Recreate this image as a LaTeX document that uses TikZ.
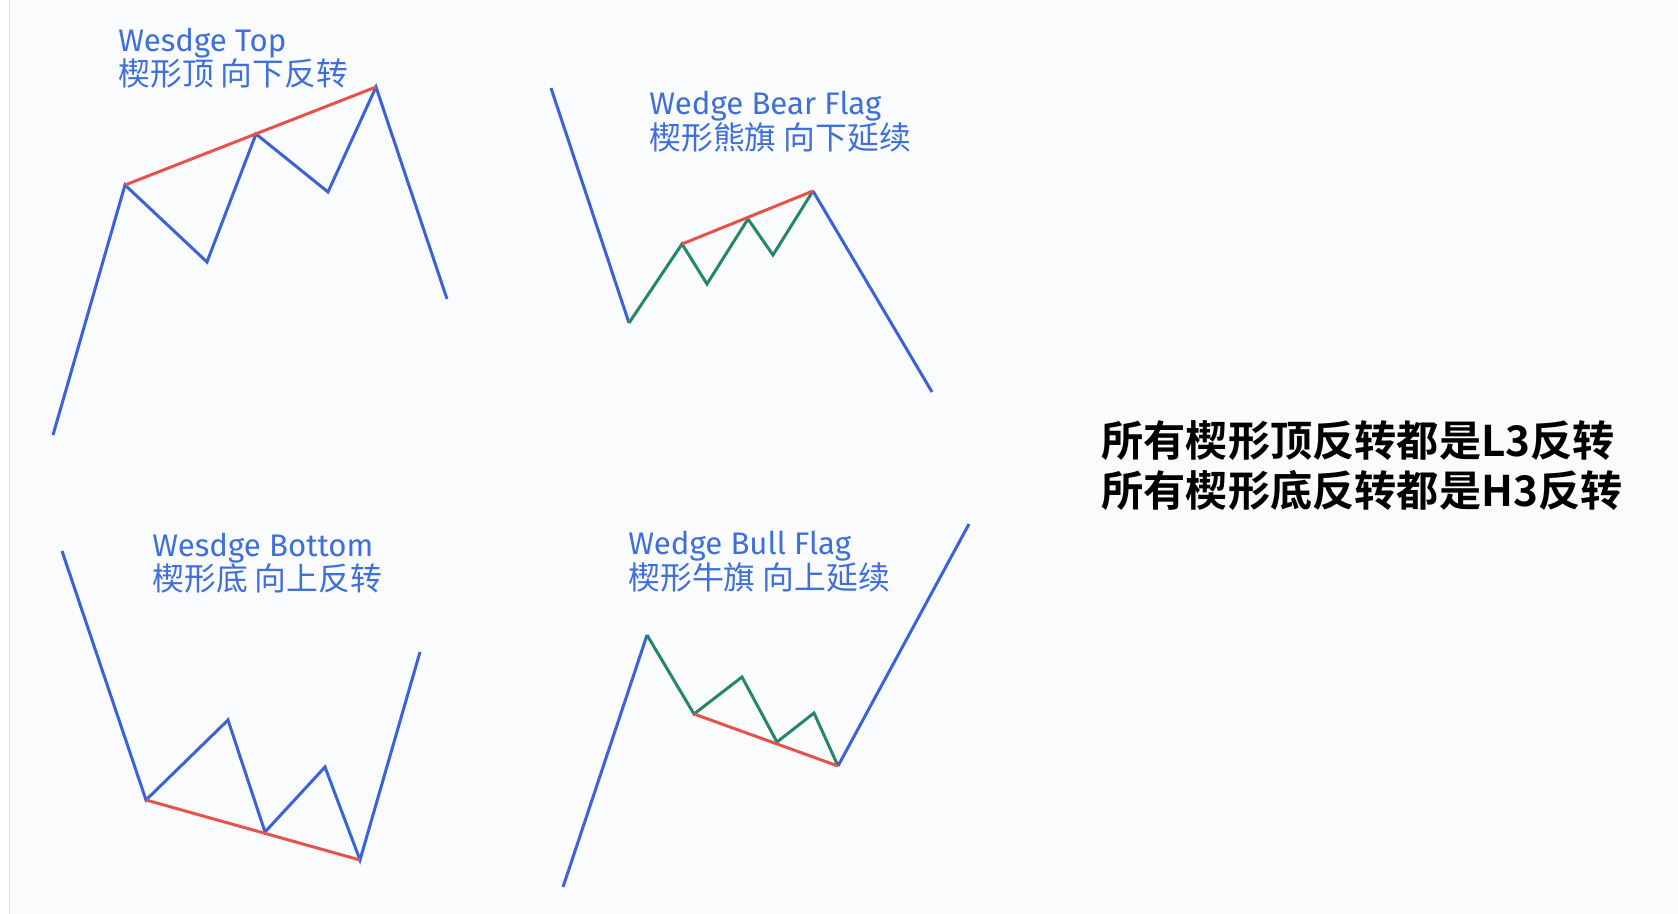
\documentclass[tikz,border=0pt]{standalone}
\usepackage{fontspec}
\setmainfont{Fira Sans}
\newfontfamily\cjk[BoldFont={Noto Sans CJK SC Bold}]{Noto Sans CJK SC}
\usepackage{xcolor}
\usepackage{tikz}
\definecolor{wblue}{HTML}{3B63D6}
\definecolor{wred}{HTML}{E5534B}
\definecolor{wgreen}{HTML}{25876A}
\definecolor{wtext}{HTML}{3F6FD9}
\definecolor{wbg}{HTML}{FAFBFC}

\begin{document}
\begin{tikzpicture}[x=0.5pt,y=-0.5pt,
 leg/.style={draw=wblue, line width=1.5pt},
 wedge/.style={draw=wgreen, line width=1.5pt},
 rim/.style={draw=wred, line width=1.5pt},
 en/.style={anchor=base west, inner sep=0pt, text=wtext, font=\fontsize{15.6}{17}\selectfont},
 cn/.style={anchor=base west, inner sep=0pt, text=wtext, font=\cjk\fontsize{15.9}{17}\selectfont},
 note/.style={anchor=base west, inner sep=0pt, font=\cjk\bfseries\fontsize{21.1}{24}\selectfont}]
\useasboundingbox (0,0) rectangle (1678,914);
\fill[wbg] (0,0) rectangle (1678,914);
\fill[white] (0,0) rectangle (9,914);
\draw[black!12, line width=0.4pt] (9,0) -- (9,914);

% wedge top
\coordinate (a0) at (53,435);
\coordinate (a1) at (125,185);
\coordinate (a2) at (207,262);
\coordinate (a3) at (256,134);
\coordinate (a4) at (328,192);
\coordinate (a5) at (376,87);
\coordinate (a6) at (447,299);
\draw[leg] (a0)--(a1)--(a2)--(a3)--(a4)--(a5)--(a6);
\draw[rim] (a1)--(a5);
\node[en] (topEn) at (118,52) {Wesdge Top};
\node[cn] (topCn) at (118,86) {楔形顶 向下反转};

% wedge bear flag
\coordinate (b0) at (551,88);
\coordinate (b1) at (629,323);
\coordinate (b2) at (682,244);
\coordinate (b3) at (707,284);
\coordinate (b4) at (748,219);
\coordinate (b5) at (773,255);
\coordinate (b6) at (813,191);
\coordinate (b7) at (932,392);
\draw[leg] (b0)--(b1);
\draw[wedge] (b1)--(b2)--(b3)--(b4)--(b5)--(b6);
\draw[leg] (b6)--(b7);
\draw[rim] (b2)--(b6);
\node[en] (bearEn) at (649,115) {Wedge Bear Flag};
\node[cn] (bearCn) at (649,150) {楔形熊旗 向下延续};

% wedge bottom
\coordinate (c0) at (62,551);
\coordinate (c1) at (146,800);
\coordinate (c2) at (228,720);
\coordinate (c3) at (265,832);
\coordinate (c4) at (325,767);
\coordinate (c5) at (360,860);
\coordinate (c6) at (420,652);
\draw[leg] (c0)--(c1)--(c2)--(c3)--(c4)--(c5)--(c6);
\draw[rim] (c1)--(c5);
\node[en] (botEn) at (152,557) {Wesdge Bottom};
\node[cn] (botCn) at (152,591) {楔形底 向上反转};

% wedge bull flag
\coordinate (d0) at (563,887);
\coordinate (d1) at (647,635);
\coordinate (d2) at (694,714);
\coordinate (d3) at (742,677);
\coordinate (d4) at (777,742);
\coordinate (d5) at (814,713);
\coordinate (d6) at (838,766);
\coordinate (d7) at (969,524);
\draw[leg] (d0)--(d1);
\draw[wedge] (d1)--(d2)--(d3)--(d4)--(d5)--(d6);
\draw[leg] (d6)--(d7);
\draw[rim] (d2)--(d6);
\node[en] (bullEn) at (628,555) {Wedge Bull Flag};
\node[cn] (bullCn) at (628,590) {楔形牛旗 向上延续};

\node[note] (ruleTop) at (1101,457) {所有楔形顶反转都是L3反转};
\node[note] (ruleBot) at (1101,507) {所有楔形底反转都是H3反转};
\end{tikzpicture}
\end{document}
